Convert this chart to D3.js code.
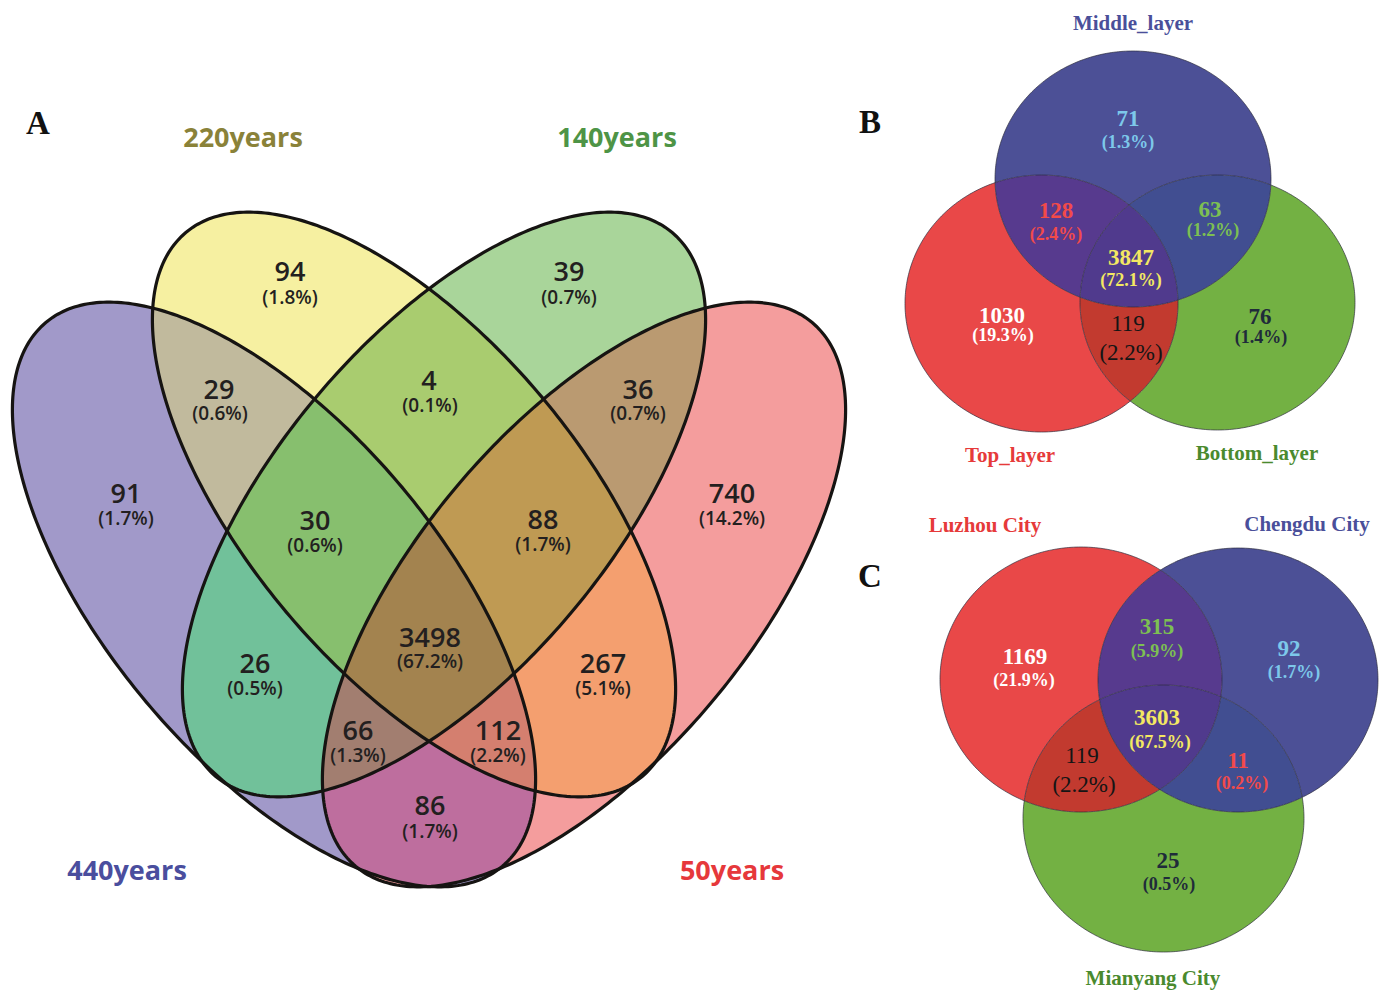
<!DOCTYPE html>
<html>
<head>
<meta charset="utf-8">
<script src="https://cdn.jsdelivr.net/npm/d3@7"></script>
<style>
  html, body { margin: 0; padding: 0; background: #ffffff; }
  svg { display: block; }
</style>
</head>
<body>
<svg id="fig" width="1392" height="992"></svg>
<script>
// ---------------- Data ----------------
// Panel A: four soil ages. Region codes follow the order of setsA (1 = inside).
const setsA = ["440years", "220years", "140years", "50years"];
const regionsA = ["1000", "0100", "0010", "0001", "1100", "0110", "0011", "1010",
                  "0101", "1001", "1110", "0111", "1011", "1101", "1111"];
const countsA = [91, 94, 39, 740, 29, 4, 36, 26, 267, 86, 30, 88, 66, 112, 3498];

// Panel B: three layers.
const setsB = ["Top_layer", "Middle_layer", "Bottom_layer"];
const regionsB = ["100", "010", "001", "110", "011", "101", "111"];
const countsB = [1030, 71, 76, 128, 63, 119, 3847];

// Panel C: three cities.
const setsC = ["Luzhou City", "Chengdu City", "Mianyang City"];
const regionsC = ["100", "010", "001", "110", "011", "101", "111"];
const countsC = [1169, 92, 25, 315, 11, 119, 3603];

const panelLetters = ["A", "B", "C"];

// ---------------- Layout & style ----------------
const W = 1392, H = 992;
const SANS = "'Open Sans','Noto Sans',sans-serif";
const SERIF = "'Liberation Serif','Times New Roman',serif";
const fmtPct = d3.format(".1%");

const svg = d3.select("#fig");
const defs = svg.append("defs");

// Panel A: local units are pixels from the panel's top-left corner.
const layoutA = {
  key: "A",
  x: d3.scaleLinear().domain([0, 836]).range([12, 848]),
  y: d3.scaleLinear().domain([0, 675]).range([212, 887]),
  shapes: [
    { cx: 262, cy: 382.5, a: 355, b: 167, rot: 50 },
    { cx: 402, cy: 292.5, a: 355, b: 167, rot: 50 },
    { cx: 432, cy: 292.5, a: 355, b: 167, rot: 130 },
    { cx: 572, cy: 382.5, a: 355, b: 167, rot: 130 }
  ],
  fills: ["#A199C9", "#F6F0A1", "#A9D59A", "#F49D9D", "#C1BA9D", "#A9CC6F", "#BA9A71",
          "#71C19A", "#F49F6F", "#BE6E9E", "#87BF6E", "#BF9A53", "#A27E70", "#D47F6F", "#A3834F"],
  numPos: [[114, 281], [278, 59], [557, 59], [720, 281], [207, 177], [417, 168], [626, 177],
           [243, 451], [591, 451], [418, 593], [303, 308], [531, 307], [346, 518], [486, 518], [418, 425]],
  pctPos: [[114, 306], [278, 85], [557, 85], [720, 306], [208, 201], [418, 193], [626, 201],
           [243, 476], [591, 476], [418, 619], [303, 333], [531, 332], [346, 543], [486, 543], [418, 449]],
  outline: { stroke: "#161412", width: 3.2, opacity: 1 },
  setLabelPos: [[115, 658], [231, -75], [605, -75], [720, 658]],
  setLabelColors: ["#4A4E9E", "#8A8239", "#4E9446", "#E6383B"]
};

// Panel B
const layoutB = {
  key: "B",
  x: d3.scaleLinear().domain([0, 450]).range([905, 1355]),
  y: d3.scaleLinear().domain([0, 381]).range([51, 432]),
  shapes: [
    { cx: 136.5, cy: 252.5, a: 136.5, b: 128.5, rot: 0 },
    { cx: 228, cy: 128, a: 138, b: 128, rot: 0 },
    { cx: 312.5, cy: 251.5, a: 137.5, b: 127.5, rot: 0 }
  ],
  fills: ["#E94848", "#4C5096", "#73B143", "#573A8E", "#414E91", "#C23A2F", "#503A8D"],
  textColors: ["#FFFFFF", "#7DC8EA", "#1F2B3A", "#F24A4A", "#7DC052", "#151515", "#F3E862"],
  plain: [false, false, false, false, false, true, false],
  numPos: [[97, 264], [223, 67], [355, 265], [151, 159], [305, 158], [223, 272], [226, 206]],
  pctPos: [[98, 284], [223, 91], [356, 286], [151, 183], [308, 179], [226, 301], [226, 229]],
  outline: { stroke: "#2a2a3a", width: 0.9, opacity: 0.75 },
  setLabelPos: [[105, 404], [228, -28], [352, 402]],
  setLabelColors: ["#E63A3A", "#4A4F9A", "#4A8A2E"]
};

// Panel C
const layoutC = {
  key: "C",
  x: d3.scaleLinear().domain([0, 438]).range([940, 1378]),
  y: d3.scaleLinear().domain([0, 405]).range([547, 952]),
  shapes: [
    { cx: 141, cy: 132.5, a: 141, b: 132.5, rot: 0 },
    { cx: 298, cy: 133, a: 140, b: 132, rot: 0 },
    { cx: 223.5, cy: 271.5, a: 140.5, b: 133.5, rot: 0 }
  ],
  fills: ["#E94848", "#4C5096", "#73B143", "#573A8E", "#414E91", "#C23A2F", "#503A8D"],
  textColors: ["#FFFFFF", "#7DC8EA", "#1F2B3A", "#7DC052", "#F24A4A", "#151515", "#F3E862"],
  plain: [false, false, false, false, false, true, false],
  numPos: [[85, 109], [349, 101], [228, 313], [217, 79], [298, 213], [142, 208], [217, 170]],
  pctPos: [[84, 133], [354, 125], [229, 337], [217, 104], [302, 236], [144, 237], [220, 195]],
  outline: { stroke: "#2a2a3a", width: 0.9, opacity: 0.75 },
  setLabelPos: [[45, -22], [367, -23], [213, 431]],
  setLabelColors: ["#E63A3A", "#4A4F9A", "#4A8A2E"]
};

const letterPos = [[38, 123], [870, 122], [870, 576]];

// ---------------- Drawing helpers ----------------
function ellipsePath(xs, ys, s) {
  const n = 360, r = s.rot * Math.PI / 180;
  const pts = d3.range(n).map(i => {
    const t = 2 * Math.PI * i / n;
    const ex = s.a * Math.cos(t), ey = s.b * Math.sin(t);
    return [xs(s.cx + ex * Math.cos(r) - ey * Math.sin(r)),
            ys(s.cy + ex * Math.sin(r) + ey * Math.cos(r))];
  });
  return d3.line().curve(d3.curveLinearClosed)(pts);
}

// Paints every region of a Venn panel with its own fill: a region is the
// intersection of the sets it belongs to minus the sets it does not.
function drawRegions(L, regions) {
  const paths = L.shapes.map(s => ellipsePath(L.x, L.y, s));
  paths.forEach((d, i) => {
    defs.append("clipPath").attr("id", `${L.key}-in-${i}`)
      .append("path").attr("d", d);
    const m = defs.append("mask").attr("id", `${L.key}-out-${i}`)
      .attr("maskUnits", "userSpaceOnUse")
      .attr("x", 0).attr("y", 0).attr("width", W).attr("height", H);
    m.append("rect").attr("width", W).attr("height", H).attr("fill", "#fff");
    m.append("path").attr("d", d).attr("fill", "#000");
  });
  const [x0, x1] = L.x.range(), [y0, y1] = L.y.range();
  const layer = svg.append("g").attr("class", `regions-${L.key}`);
  regions.forEach((code, j) => {
    let g = layer;
    code.split("").forEach((bit, i) => {
      g = bit === "1"
        ? g.append("g").attr("clip-path", `url(#${L.key}-in-${i})`)
        : g.append("g").attr("mask", `url(#${L.key}-out-${i})`);
    });
    g.append("rect")
      .attr("x", x0 - 20).attr("y", y0 - 20)
      .attr("width", x1 - x0 + 40).attr("height", y1 - y0 + 40)
      .attr("fill", L.fills[j]);
  });
  svg.append("g").attr("class", `outlines-${L.key}`)
    .selectAll("path").data(paths).join("path")
    .attr("d", d => d)
    .attr("fill", "none")
    .attr("stroke", L.outline.stroke)
    .attr("stroke-width", L.outline.width)
    .attr("stroke-opacity", L.outline.opacity);
}

// ---------------- Panel A ----------------
drawRegions(layoutA, regionsA);
{
  const L = layoutA, total = d3.sum(countsA);
  const g = svg.append("g").attr("class", "labels-A")
    .attr("font-family", SANS).attr("text-anchor", "middle").attr("fill", "#231F20");
  regionsA.forEach((code, j) => {
    const [nx, ny] = L.numPos[j], [px, py] = L.pctPos[j];
    g.append("text")
      .attr("x", L.x(nx)).attr("y", L.y(ny) + 9.8)
      .attr("font-size", 27).attr("font-weight", 600)
      .text(countsA[j]);
    g.append("text")
      .attr("x", L.x(px)).attr("y", L.y(py) + 6.8)
      .attr("font-size", 19).attr("font-weight", 600)
      .text(`(${fmtPct(countsA[j] / total)})`);
  });
  svg.append("g").attr("class", "set-labels-A")
    .attr("font-family", SANS).attr("font-weight", 700).attr("font-size", 27)
    .attr("text-anchor", "middle")
    .selectAll("text").data(setsA).join("text")
    .attr("x", (d, i) => L.x(L.setLabelPos[i][0]))
    .attr("y", (d, i) => L.y(L.setLabelPos[i][1]) + 9.5)
    .attr("fill", (d, i) => L.setLabelColors[i])
    .text(d => d);
}

// ---------------- Panels B and C ----------------
function drawThree(L, sets, regions, counts) {
  drawRegions(L, regions);
  const total = d3.sum(counts);
  const g = svg.append("g").attr("class", `labels-${L.key}`)
    .attr("font-family", SERIF).attr("text-anchor", "middle");
  regions.forEach((code, j) => {
    const [nx, ny] = L.numPos[j], [px, py] = L.pctPos[j];
    const plain = L.plain[j];
    g.append("text")
      .attr("x", L.x(nx)).attr("y", L.y(ny) + 7.8)
      .attr("font-size", 23).attr("font-weight", plain ? 400 : 700)
      .attr("fill", L.textColors[j])
      .text(counts[j]);
    g.append("text")
      .attr("x", L.x(px)).attr("y", L.y(py) + (plain ? 7.8 : 6.1))
      .attr("font-size", plain ? 23 : 18).attr("font-weight", plain ? 400 : 700)
      .attr("fill", L.textColors[j])
      .text(`(${fmtPct(counts[j] / total)})`);
  });
  svg.append("g").attr("class", `set-labels-${L.key}`)
    .attr("font-family", SERIF).attr("font-weight", 700).attr("font-size", 21)
    .attr("text-anchor", "middle")
    .selectAll("text").data(sets).join("text")
    .attr("x", (d, i) => L.x(L.setLabelPos[i][0]))
    .attr("y", (d, i) => L.y(L.setLabelPos[i][1]) + 7)
    .attr("fill", (d, i) => L.setLabelColors[i])
    .text(d => d);
}
drawThree(layoutB, setsB, regionsB, countsB);
drawThree(layoutC, setsC, regionsC, countsC);

// ---------------- Panel letters ----------------
svg.append("g").attr("class", "panel-letters")
  .attr("font-family", SERIF).attr("font-weight", 700).attr("font-size", 33)
  .attr("text-anchor", "middle").attr("fill", "#111")
  .selectAll("text").data(panelLetters).join("text")
  .attr("x", (d, i) => letterPos[i][0])
  .attr("y", (d, i) => letterPos[i][1] + 11)
  .text(d => d);
</script>
</body>
</html>
